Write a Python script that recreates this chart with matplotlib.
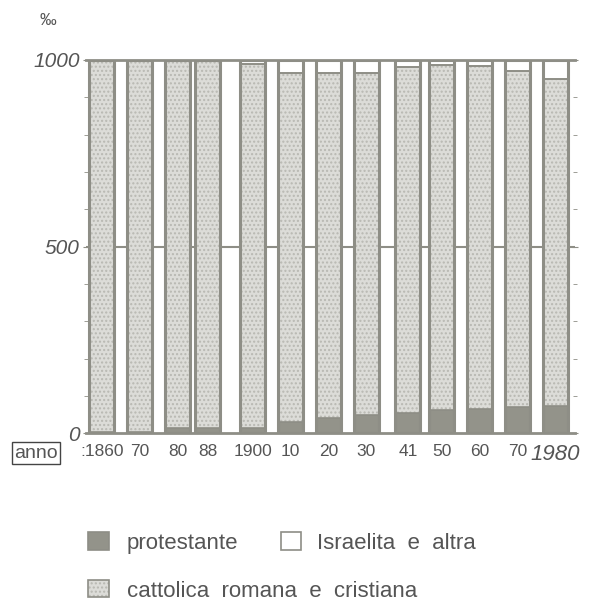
import matplotlib
matplotlib.use("Agg")
import matplotlib.pyplot as plt
from matplotlib.patches import Rectangle
import numpy as np

# ---- data (per mille) ----
years = [1860, 1870, 1880, 1888, 1900, 1910, 1920, 1930, 1941, 1950, 1960, 1970, 1980]
tick_labels = [":1860", "70", "80", "88", "1900", "10", "20", "30", "41", "50", "60", "70", "1980"]
protestante = [3, 3, 15, 15, 14, 30, 40, 50, 55, 62, 66, 70, 73]
cattolica_top = [999, 999, 999, 996, 989, 965, 965, 966, 982, 987, 984, 969, 949]
cattolica = [t - p for t, p in zip(cattolica_top, protestante)]
israelita = [1000 - t for t in cattolica_top]

plt.rcParams['font.family'] = ['Liberation Sans', 'DejaVu Sans']

edge = '#8e8e86'
dark = '#93938a'
light = '#dcdcd8'
dots = '#b8b8b2'
txt = '#555555'

fig = plt.figure(figsize=(5.93, 6.05), dpi=100)
ax = fig.add_axes([0.145, 0.284, 0.825, 0.617])
ax.set_xlim(1855.8, 1985.3)
ax.set_ylim(0, 1000)

w = 6.6
x = np.array(years)
ax.axhline(500, color=edge, lw=1.5, zorder=0)
ax.axhline(1000, color=edge, lw=2, zorder=1, clip_on=False)
ax.axhline(0, color=edge, lw=2, zorder=1, clip_on=False)

p = np.array(protestante)
c = np.array(cattolica)
i = np.array(israelita)
ax.bar(x, p, width=w, color=dark, edgecolor=edge, linewidth=1.2, zorder=2)
ax.bar(x, c, bottom=p, width=w, color=light, edgecolor=dots, hatch='....', linewidth=0, zorder=2)
ax.bar(x, c, bottom=p, width=w, fill=False, edgecolor=edge, linewidth=1.2, zorder=3)
ax.bar(x, i, bottom=p + c, width=w, color='white', edgecolor=edge, linewidth=1.2, zorder=2)
ax.bar(x, [1000] * len(x), width=w, fill=False, edgecolor=edge, linewidth=2.2, zorder=4)

for s in ax.spines.values():
    s.set_visible(False)

ax.set_yticks([0, 500, 1000])
ax.set_yticklabels(['0', '500', '1000'], fontsize=15, style='italic', color=txt)
ax.set_yticks(np.arange(100, 1000, 100), minor=True)
ax.tick_params(axis='y', which='minor', length=3, color=edge, right=True, direction='inout')
ax.tick_params(axis='y', which='major', right=True, length=5, color=edge, direction='inout', pad=2)

ax.set_xticks(x)
ax.set_xticklabels(tick_labels, fontsize=12.5, color=txt)
ax.tick_params(axis='x', length=0, pad=8)
lab = ax.get_xticklabels()
lab[-1].set_fontsize(16)
lab[-1].set_style('italic')
lab[-1].set_va('top')

fig.text(0.024, 0.251, 'anno', fontsize=14, color=txt, va='center', ha='left',
         bbox=dict(boxstyle='square,pad=0.12', fc='white', ec='#444444', lw=1))
fig.text(0.066, 0.966, '‰', fontsize=12, color=txt, ha='left', va='center')

# legend
def sq(xp, yp, fc, hatch=None):
    if hatch:
        fig.add_artist(Rectangle((xp, yp), 0.034, 0.029, transform=fig.transFigure,
                                 fc=fc, ec=dots, hatch=hatch, lw=0))
        fig.add_artist(Rectangle((xp, yp), 0.034, 0.029, transform=fig.transFigure,
                                 fill=False, ec=edge, lw=1.2))
    else:
        fig.add_artist(Rectangle((xp, yp), 0.034, 0.029, transform=fig.transFigure,
                                 fc=fc, ec=edge, lw=1.2))

sq(0.149, 0.091, dark)
fig.text(0.214, 0.101, 'protestante', fontsize=16, color=txt, va='center')
sq(0.474, 0.091, 'white')
fig.text(0.535, 0.101, 'Israelita  e  altra', fontsize=16, color=txt, va='center')
sq(0.149, 0.013, light, '....')
fig.text(0.214, 0.022, 'cattolica  romana  e  cristiana', fontsize=16, color=txt, va='center')

fig.savefig('out.png', dpi=100)
